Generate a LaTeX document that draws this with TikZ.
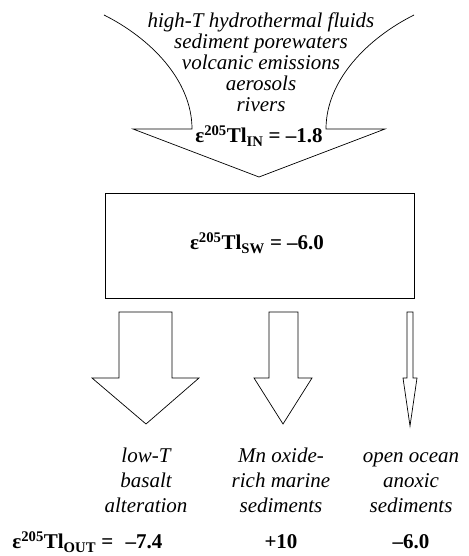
\documentclass[tikz,border=0pt]{standalone}
\usepackage{fontspec}
\setmainfont{Liberation Serif}
\tikzset{
  src/.style={font=\fontsize{21}{21}\selectfont\itshape, align=center, inner sep=0},
  sink/.style={font=\fontsize{21}{25}\selectfont\itshape, align=center, inner sep=0},
  eps/.style={font=\fontsize{21}{25}\selectfont\bfseries, inner sep=0},
}
\begin{document}
\begin{tikzpicture}[x=1pt,y=1pt,line width=.7pt]
\useasboundingbox (0,0) rectangle (468,556);
% input arrow
\draw (104,541) .. controls (150,518) and (192,476) .. (192,427) -- (133,427) -- (259,379) -- (385,427) -- (326,427) .. controls (326,476) and (368,518) .. (414,541);
\node[src, anchor=north] (sources) at (261,543.7) {\strut high-\textit{T} hydrothermal fluids\\sediment porewaters\\volcanic emissions\\aerosols\\rivers};
\node[eps, anchor=base] (epsin) at (259,413) {ε\textsuperscript{205}Tl\textsubscript{IN} = –1.8};
% seawater
\node[draw, minimum width=309, minimum height=105] (sw) at (259.5,310.5) {};
\node[eps, anchor=base] (epssw) at (257,306) {ε\textsuperscript{205}Tl\textsubscript{SW} = –6.0};
% output arrows
\draw (119,244) -- (172,244) -- (172,178) -- (199,178) -- (146,132) -- (92,178) -- (119,178) -- cycle;
\draw (269,244) -- (298,244) -- (298,178) -- (312,178) -- (283,132) -- (254,178) -- (269,178) -- cycle;
\draw (407,244) -- (413,244) -- (413,178) -- (417,178) -- (410,130) -- (403,178) -- (407,178) -- cycle;
\node[sink, anchor=north] (basalt) at (146,111.5) {\strut low-\textit{T}\\basalt\\alteration};
\node[sink, anchor=north] (mnox) at (281,111.5) {\strut Mn oxide-\\rich marine\\sediments};
\node[sink, anchor=north] (anox) at (411,111.5) {\strut open ocean\\anoxic\\sediments};
% output values
\node[eps, anchor=base west] (epsout) at (12,7) {ε\textsuperscript{205}Tl\textsubscript{OUT} =};
\node[eps, anchor=base] (outbasalt) at (144,7) {–7.4};
\node[eps, anchor=base] (outmnox) at (281,7) {+10};
\node[eps, anchor=base] (outanox) at (411,7) {–6.0};
\end{tikzpicture}
\end{document}
